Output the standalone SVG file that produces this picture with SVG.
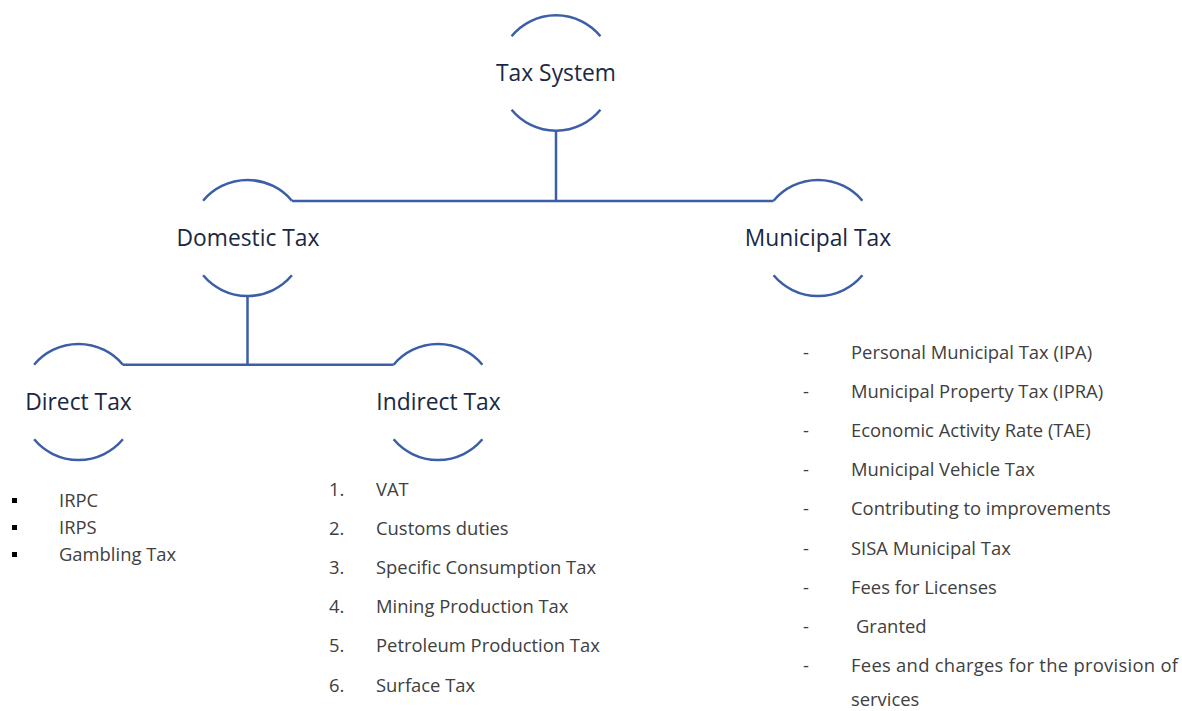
<svg xmlns="http://www.w3.org/2000/svg" width="1182" height="711" viewBox="0 0 1182 711">
<style>
.arc{fill:none;stroke:#3b5ea6;stroke-width:2.5}
.con{fill:none;stroke:#3b5ea6;stroke-width:2.5}
.lbl{font-family:"Open Sans","Noto Sans","Liberation Sans",sans-serif;font-size:22.8px;fill:#1a2843;text-anchor:middle}
.li{font-family:"Open Sans","Noto Sans","Liberation Sans",sans-serif;font-size:18.4px;fill:#404040}
</style>
<rect width="1182" height="711" fill="#ffffff"/>
<g id="connectors">
<path class="con" d="M556,130.5 V201"/>
<path class="con" d="M291.9,201 H773.6"/>
<path class="con" d="M247.5,296 V365"/>
<path class="con" d="M122.8,364.7 H393.6"/>
</g>
<g id="node-tax-system">
<path class="arc" d="M511.6,36.2 A57.5 57.5 0 0 1 600.4,36.2"/>
<path class="arc" d="M511.6,109.8 A57.5 57.5 0 0 0 600.4,109.8"/>
<text class="lbl" x="556" y="81">Tax System</text>
</g>
<g id="node-domestic-tax">
<path class="arc" d="M203.1,200.7 A58 58 0 0 1 291.9,200.7"/>
<path class="arc" d="M203.1,275.3 A58 58 0 0 0 291.9,275.3"/>
<text class="lbl" x="248" y="246">Domestic Tax</text>
</g>
<g id="node-municipal-tax">
<path class="arc" d="M773.6,200.7 A58 58 0 0 1 862.4,200.7"/>
<path class="arc" d="M773.6,275.3 A58 58 0 0 0 862.4,275.3"/>
<text class="lbl" x="818" y="246">Municipal Tax</text>
</g>
<g id="node-direct-tax">
<path class="arc" d="M34.1,364.7 A58 58 0 0 1 122.9,364.7"/>
<path class="arc" d="M34.1,439.3 A58 58 0 0 0 122.9,439.3"/>
<text class="lbl" x="78.5" y="410">Direct Tax</text>
</g>
<g id="node-indirect-tax">
<path class="arc" d="M393.6,364.7 A58 58 0 0 1 482.4,364.7"/>
<path class="arc" d="M393.6,439.3 A58 58 0 0 0 482.4,439.3"/>
<text class="lbl" x="438.5" y="410">Indirect Tax</text>
</g>
<g id="direct-list">
<rect x="12" y="498" width="5" height="5" fill="#000"/>
<rect x="12" y="525" width="5" height="5" fill="#000"/>
<rect x="12" y="552" width="5" height="5" fill="#000"/>
<text class="li" x="59" y="507">IRPC</text>
<text class="li" x="59" y="534">IRPS</text>
<text class="li" x="59" y="561">Gambling Tax</text>
</g>
<g id="indirect-list">
<text class="li" x="329" y="496">1.</text><text class="li" x="376" y="496">VAT</text>
<text class="li" x="329" y="535">2.</text><text class="li" x="376" y="535">Customs duties</text>
<text class="li" x="329" y="574">3.</text><text class="li" x="376" y="574">Specific Consumption Tax</text>
<text class="li" x="329" y="613">4.</text><text class="li" x="376" y="613">Mining Production Tax</text>
<text class="li" x="329" y="652">5.</text><text class="li" x="376" y="652">Petroleum Production Tax</text>
<text class="li" x="329" y="692">6.</text><text class="li" x="376" y="692">Surface Tax</text>
</g>
<g id="municipal-list">
<text class="li" x="803" y="359">-</text><text class="li" x="851" y="359">Personal Municipal Tax (IPA)</text>
<text class="li" x="803" y="398">-</text><text class="li" x="851" y="398">Municipal Property Tax (IPRA)</text>
<text class="li" x="803" y="437">-</text><text class="li" x="851" y="437">Economic Activity Rate (TAE)</text>
<text class="li" x="803" y="476">-</text><text class="li" x="851" y="476">Municipal Vehicle Tax</text>
<text class="li" x="803" y="515">-</text><text class="li" x="851" y="515">Contributing to improvements</text>
<text class="li" x="803" y="554.5">-</text><text class="li" x="851" y="554.5">SISA Municipal Tax</text>
<text class="li" x="803" y="593.5">-</text><text class="li" x="851" y="593.5">Fees for Licenses</text>
<text class="li" x="803" y="632.5">-</text><text class="li" x="856" y="632.5">Granted</text>
<text class="li" x="803" y="671.5">-</text><text class="li" x="851" y="671.5" textLength="327" lengthAdjust="spacing">Fees and charges for the provision of</text>
<text class="li" x="851" y="706">services</text>
</g>
</svg>
